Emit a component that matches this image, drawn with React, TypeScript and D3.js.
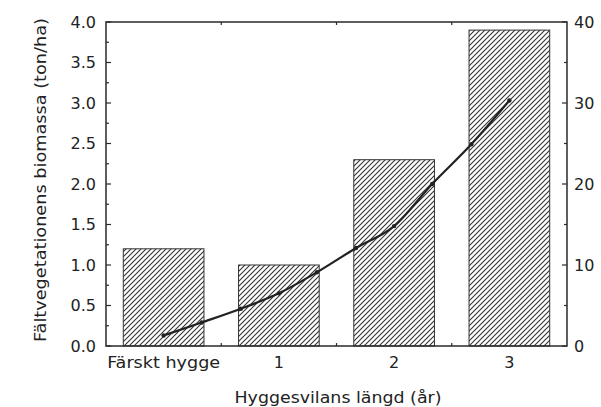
import React from "react";
import * as d3 from "d3";

const categories = ["Färskt hygge", "1", "2", "3"];
const biomass = [1.2, 1.0, 2.3, 3.9];
const lineYears = [0, 0.33, 0.67, 1, 1.33, 1.67, 2, 2.33, 2.67, 3];
const lineValues = [1.3, 2.9, 4.6, 6.5, 9.1, 12.1, 14.8, 20.0, 24.9, 30.3];
const leftTicks = [0, 0.5, 1, 1.5, 2, 2.5, 3, 3.5, 4];
const leftMinor = [0.25, 0.75, 1.25, 1.75, 2.25, 2.75, 3.25, 3.75];
const rightTicks = [0, 10, 20, 30, 40];
const rightMinor = [5, 15, 25, 35];
const yTitle = "Fältvegetationens biomassa (ton/ha)";
const xTitle = "Hyggesvilans längd (år)";

export default function App() {
  const W = 601, H = 407;
  const left = 106, right = 567, top = 22, bottom = 346;
  const x = d3.scaleBand<string>().domain(categories).range([left, right]).paddingInner(0.3).paddingOuter(0.15);
  const bw = x.bandwidth();
  const yL = d3.scaleLinear().domain([0, 4]).range([bottom, top]);
  const yR = d3.scaleLinear().domain([0, 40]).range([bottom, top]);
  const xYear = d3.scaleLinear().domain([0, 3]).range([(x(categories[0]) as number) + bw / 2, (x(categories[3]) as number) + bw / 2]);
  const line = d3.line<number>().x((_, i) => xYear(lineYears[i])).y((d) => yR(d)).curve(d3.curveMonotoneX);
  const boundaries = categories.slice(1).map((c) => (x(c) as number) - (x.step() * x.paddingInner()) / 2);
  const ink = "#2a2a2a";
  const font = "'DejaVu Sans', sans-serif";
  const fs = 16;
  return (
    <svg width={W} height={H} style={{ position: "absolute", left: 0, top: 0, background: "#fff" }}>
      <defs>
        <pattern id="hatch" patternUnits="userSpaceOnUse" width={5} height={5}>
          <rect width={5} height={5} fill="#fff" />
          <path d="M0,5 L5,0 M-1,1 L1,-1 M4,6 L6,4" stroke="#333" strokeWidth={1.1} />
        </pattern>
      </defs>
      {categories.map((c, i) => (
        <rect key={c} x={x(c)} y={yL(biomass[i])} width={bw} height={bottom - yL(biomass[i])} fill="url(#hatch)" stroke="#333" strokeWidth={1} />
      ))}
      <rect x={left} y={top} width={right - left} height={bottom - top} fill="none" stroke={ink} strokeWidth={1.5} />
      {leftTicks.map((t) => (
        <g key={"l" + t}>
          <line x1={left} x2={left + 5} y1={yL(t)} y2={yL(t)} stroke={ink} strokeWidth={1.2} />
          <text x={left - 10} y={yL(t)} dy="0.36em" textAnchor="end" fontFamily={font} fontSize={fs} fill="#222">{d3.format(".1f")(t)}</text>
        </g>
      ))}
      {leftMinor.map((t) => (
        <line key={"lm" + t} x1={left} x2={left + 3} y1={yL(t)} y2={yL(t)} stroke={ink} strokeWidth={1.2} />
      ))}
      {rightTicks.map((t) => (
        <g key={"r" + t}>
          <line x1={right} x2={right - 5} y1={yR(t)} y2={yR(t)} stroke={ink} strokeWidth={1.2} />
          <text x={right + 7} y={yR(t)} dy="0.36em" textAnchor="start" fontFamily={font} fontSize={fs} fill="#222">{t}</text>
        </g>
      ))}
      {rightMinor.map((t) => (
        <line key={"rm" + t} x1={right} x2={right - 3} y1={yR(t)} y2={yR(t)} stroke={ink} strokeWidth={1.2} />
      ))}
      {boundaries.map((b, i) => (
        <g key={"b" + i}>
          <line x1={b} x2={b} y1={bottom} y2={bottom - 3} stroke={ink} strokeWidth={1.2} />
          <line x1={b} x2={b} y1={top} y2={top + 3} stroke={ink} strokeWidth={1.2} />
        </g>
      ))}
      {categories.map((c) => (
        <text key={"t" + c} x={(x(c) as number) + bw / 2} y={368} textAnchor="middle" fontFamily={font} fontSize={fs} fill="#222"
          textLength={c.length > 2 ? 113 : undefined} lengthAdjust="spacingAndGlyphs">{c}</text>
      ))}
      <path d={line(lineValues) || ""} fill="none" stroke="#222" strokeWidth={2.2} />
      {lineValues.map((v, i) => (
        <circle key={"p" + i} cx={xYear(lineYears[i])} cy={yR(v)} r={2.2} fill="#222" />
      ))}
      <text x={338} y={403} textAnchor="middle" fontFamily={font} fontSize={fs} fill="#222" textLength={207} lengthAdjust="spacingAndGlyphs">{xTitle}</text>
      <text transform={`translate(46,180) rotate(-90)`} textAnchor="middle" fontFamily={font} fontSize={fs} fill="#222" textLength={324} lengthAdjust="spacingAndGlyphs">{yTitle}</text>
    </svg>
  );
}
